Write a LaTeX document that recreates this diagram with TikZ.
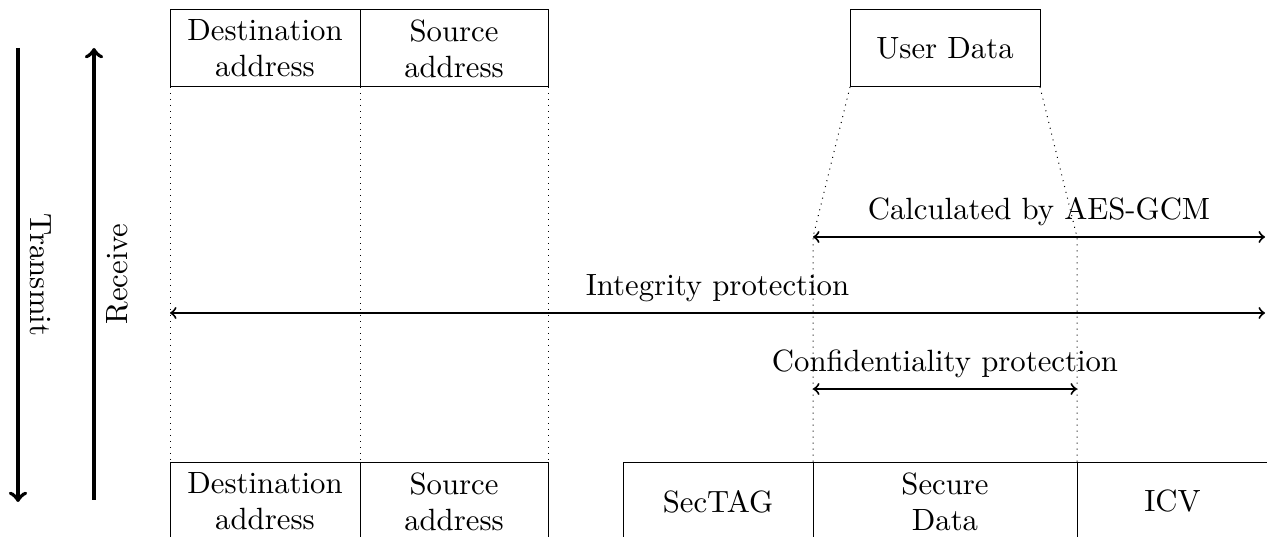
\documentclass[tikz,border=0pt]{standalone}
\begin{document}
\begin{tikzpicture}[x=0.4pt,y=-0.4pt,
  every node/.style={font=\fontsize{10.25}{12}\selectfont,scale=1.2},
  field/.style={draw,thin,outer sep=0pt,align=center,minimum height=25.667pt,inner sep=0pt},
  guide/.style={dotted,thin},
  span/.style={thick,<->},
  dirarrow/.style={line width=1.6pt,->}]
\useasboundingbox (0,0) rectangle (1267,537);
% top frame
\node[field,minimum width=63.333pt] (TD) at (265,48.5) {Destination\\address};
\node[field,minimum width=62.667pt] (TS) at (454,48.5) {Source\\address};
\node[field,minimum width=63.333pt] (UD) at (945,48.5) {User Data};
% bottom frame
\node[field,minimum width=63.333pt] (BD) at (265,501.5) {Destination\\address};
\node[field,minimum width=62.667pt] (BS) at (454,501.5) {Source\\address};
\node[field,minimum width=63.333pt] (ST) at (718,501.5) {SecTAG};
\node[field,minimum width=88pt] (SD) at (945,501.5) {Secure\\Data};
\node[field,minimum width=63.667pt] (ICV) at (1172.5,501.5) {ICV};
% guide lines
\coordinate (cl) at (813,237);
\coordinate (cr) at (1077,237);
\coordinate (cend) at (1265,237);
\coordinate (il) at (170,313);
\coordinate (ir) at (1265,313);
\coordinate (fl) at (813,389);
\coordinate (fr) at (1077,389);
\draw[guide] (TD.south west) -- (BD.north west);
\draw[guide] (TD.south east) -- (BD.north east);
\draw[guide] (TS.south east) -- (BS.north east);
\draw[guide] (UD.south west) -- (cl) -- (SD.north west);
\draw[guide] (UD.south east) -- (cr) -- (SD.north east);
% spans
\draw[span] (cl) -- node[above] {Calculated by AES-GCM} (cend);
\draw[span] (il) -- node[above] {Integrity protection} (ir);
\draw[span] (fl) -- node[above] {Confidentiality protection} (fr);
% direction arrows
\coordinate (t1) at (18,48);
\coordinate (t2) at (18,502);
\coordinate (r1) at (94,500);
\coordinate (r2) at (94,48);
\draw[dirarrow] (t1) -- node[midway,sloped,above] {Transmit} (t2);
\draw[dirarrow] (r1) -- node[midway,sloped,below] {Receive} (r2);
\end{tikzpicture}
\end{document}
